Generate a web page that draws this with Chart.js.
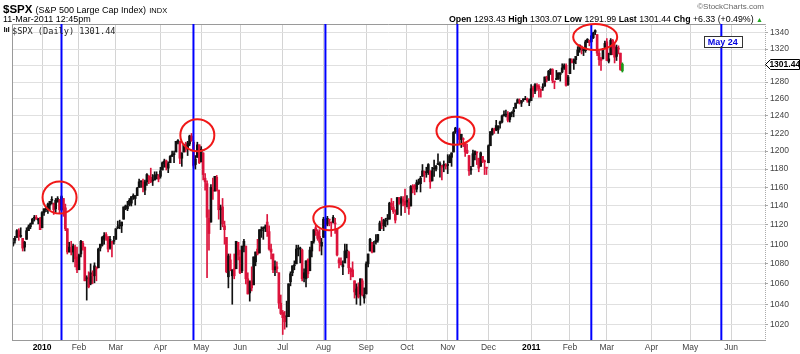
<!DOCTYPE html>
<html>
<head>
<meta charset="utf-8">
<script src="https://cdn.jsdelivr.net/npm/chart.js@4.4.1/dist/chart.umd.min.js"></script>
<style>
  body { margin: 0; background: #fff; }
  #wrap { position: relative; width: 800px; height: 354px; font-family: Arial, "Liberation Sans", sans-serif; }
  canvas { position: absolute; left: 0; top: 0; }
  .t { position: absolute; white-space: nowrap; line-height: 1; color: #000; }
</style>
</head>
<body>
<div id="wrap">
  <canvas id="chart" width="800" height="354"></canvas>
  <div class="t" style="left:3px;top:4px;font-size:11.5px;font-weight:bold">$SPX <span style="font-size:9px;font-weight:normal">(S&amp;P 500 Large Cap Index)</span> <span style="font-size:7.5px;font-weight:normal">INDX</span></div>
  <div class="t" style="left:3px;top:15px;font-size:9px">11-Mar-2011 12:45pm</div>
  <div class="t" style="right:36px;top:3px;font-size:8px;color:#666">©StockCharts.com</div>
  <div class="t" style="right:37px;top:15px;font-size:8.8px"><b>Open</b> 1293.43 <b>High</b> 1303.07 <b>Low</b> 1291.99 <b>Last</b> 1301.44 <b>Chg</b> +6.33 (+0.49%) <span style="color:#2a2;font-size:7px">▲</span></div>
  <div class="t" style="left:12px;top:26px;font:8.6px 'DejaVu Sans Mono',monospace;color:#222">$SPX (Daily) 1301.44</div>
</div>
<script>
// trading calendar (x categories)
const firstDay = '2009-12-10';
const lastDay = '2011-06-24';
const holidays = ['2009-12-25','2010-01-01','2010-01-18','2010-02-15','2010-04-02','2010-05-31','2010-07-05',
  '2010-09-06','2010-11-25','2010-12-24','2011-01-17','2011-02-21','2011-04-22','2011-05-30'];

const monthStarts = ['2010-01-04','2010-02-01','2010-03-01','2010-04-01','2010-05-03','2010-06-01','2010-07-01',
  '2010-08-02','2010-09-01','2010-10-01','2010-11-01','2010-12-01','2011-01-03','2011-02-01','2011-03-01',
  '2011-04-01','2011-05-02','2011-06-01'];
const monthLabels = ['2010','Feb','Mar','Apr','May','Jun','Jul','Aug','Sep','Oct','Nov','Dec','2011','Feb','Mar','Apr','May','Jun'];

const yTicks = [1020,1040,1060,1080,1100,1120,1140,1160,1180,1200,1220,1240,1260,1280,1300,1320,1340];

// daily candles, Dec 10 2009 .. Mar 11 2011
const opens = [
  1099,1104,1107,1114,1108,1106,1097,1105,1114,1118,1121,1127,1128,1125,1127,
  1117,1133,1136,1136,1141,1146,1143,1137,1145,1147,1136,1148,1138,1116,1092,1095,1092,1097,1087,
  1074,1090,1101,1097,1065,1066,1060,1069,1068,1075,1076,1096,1099,1105,1110,1107,1096,1101,1103,
  1105,1117,1119,1119,1126,1139,1137,1141,1143,1151,1148,1151,1160,1166,1166,1157,1166,1172,1171,1168,1168,1173,1172,
  1172,1179,1186,1189,1181,1187,1194,1196,1199,1210,1211,1192,1199,1207,1202,1208,1217,1210,1185,1193,1207,
  1188,1198,1170,1164,1127,1123,1156,1156,1171,1157,1136,1139,1119,1107,1067,1084,1068,1075,1075,1102,
  1087,1073,1098,1098,1065,1051,1063,1059,1082,1095,1091,1114,1116,1117,1123,1113,1095,1090,1074,1077,1071,1041,
  1032,1028,1029,1028,1062,1071,1078,1080,1095,1095,1094,1066,1065,1084,1073,1093,1103,1117,1113,1108,1098,
  1107,1125,1121,1125,1122,1123,1122,1116,1081,1082,1077,1081,1093,1092,1075,1074,1063,1049,1057,1050,1063,1046,
  1050,1080,1093,1102,1092,1102,1104,1114,1121,1119,1124,1127,1126,1143,1139,1131,1131,1149,1143,1147,1145,
  1144,1144,1140,1160,1162,1158,1165,1164,1172,1177,1177,1176,1178,1167,1180,1180,1185,1184,1184,1184,1183,
  1185,1187,1193,1199,1222,1224,1224,1213,1213,1209,1201,1195,1179,1183,1196,1198,1192,1183,1194,1189,1182,
  1187,1206,1219,1224,1229,1224,1231,1233,1242,1241,1241,1236,1243,1245,1249,1255,1258,1255,1259,1259,1260,1256,
  1258,1273,1269,1276,1275,1271,1273,1275,1286,1282,1294,1295,1280,1283,1284,1289,1292,1297,1300,1277,
  1290,1305,1303,1307,1312,1319,1323,1318,1318,1329,1331,1329,1334,1341,1338,1315,1308,1308,1322,
  1329,1305,1313,1331,1323,1311,1320,1315,1293.43
];
const highs = [
  1106,1108,1115,1116,1117,1106,1103,1117,1120,1122,1127,1130,1130,1127,1128,
  1134,1137,1139,1143,1145,1150,1143,1148,1150,1147,1151,1148,1142,1116,1102,1103,1100,1099,1097,
  1090,1104,1103,1097,1068,1072,1080,1073,1081,1077,1096,1100,1108,1112,1112,1108,1108,1103,1108,
  1116,1124,1125,1123,1139,1141,1145,1148,1150,1153,1151,1160,1169,1167,1169,1168,1175,1173,1181,1174,1177,1177,1174,
  1182,1188,1191,1190,1188,1195,1200,1200,1211,1213,1211,1198,1208,1210,1211,1218,1220,1212,1195,1210,1207,
  1205,1198,1175,1167,1136,1163,1170,1172,1173,1157,1141,1148,1124,1107,1090,1090,1074,1090,1103,1102,
  1094,1098,1105,1098,1071,1063,1077,1087,1092,1105,1115,1118,1118,1120,1131,1119,1100,1090,1083,1082,1071,1049,
  1034,1033,1043,1060,1072,1078,1083,1099,1099,1097,1095,1075,1083,1085,1097,1103,1115,1120,1115,1115,1106,
  1128,1126,1129,1126,1123,1130,1127,1116,1086,1086,1083,1100,1100,1093,1076,1082,1063,1060,1061,1065,1065,1056,
  1082,1090,1106,1102,1103,1110,1110,1124,1128,1126,1127,1131,1144,1148,1145,1136,1149,1149,1150,1150,1158,
  1151,1148,1162,1163,1163,1168,1169,1172,1185,1178,1182,1186,1178,1182,1190,1184,1197,1188,1184,1189,1186,
  1196,1196,1198,1222,1227,1224,1226,1219,1215,1210,1208,1195,1183,1201,1200,1199,1192,1199,1194,1190,1182,
  1207,1222,1226,1226,1235,1229,1234,1241,1246,1247,1245,1244,1245,1250,1255,1260,1260,1258,1260,1263,1261,1260,
  1277,1275,1278,1278,1277,1272,1278,1286,1287,1294,1296,1296,1281,1294,1291,1291,1302,1302,1302,1288,
  1308,1308,1308,1311,1323,1325,1324,1322,1331,1333,1331,1337,1341,1344,1338,1318,1310,1321,1330,
  1333,1315,1333,1332,1327,1325,1324,1315,1303.07
];
const lows = [
  1098,1101,1107,1104,1107,1093,1093,1105,1114,1116,1121,1124,1126,1121,1115,
  1117,1130,1134,1132,1136,1142,1131,1133,1144,1132,1135,1129,1114,1090,1092,1089,1082,1077,1071,
  1074,1087,1094,1063,1044,1056,1059,1060,1061,1063,1076,1093,1098,1100,1104,1092,1095,1087,1100,
  1105,1116,1116,1112,1126,1136,1135,1140,1140,1147,1141,1151,1160,1160,1155,1152,1162,1164,1165,1162,1168,1169,1166,
  1170,1179,1182,1179,1176,1187,1194,1187,1199,1208,1186,1183,1199,1199,1195,1206,1211,1182,1180,1193,1186,
  1188,1168,1157,1066,1094,1123,1147,1156,1156,1126,1115,1118,1100,1071,1056,1073,1040,1065,1075,1084,
  1070,1071,1092,1060,1050,1043,1053,1059,1078,1089,1091,1107,1105,1113,1108,1094,1085,1071,1068,1071,1036,1030,
  1011,1016,1018,1028,1058,1068,1074,1080,1088,1081,1063,1062,1057,1066,1073,1087,1101,1109,1104,1093,1089,
  1107,1116,1119,1119,1108,1122,1111,1088,1076,1079,1069,1081,1086,1070,1064,1067,1046,1040,1046,1039,1048,1041,
  1050,1077,1093,1091,1092,1100,1102,1114,1116,1114,1118,1120,1126,1136,1132,1122,1131,1142,1130,1140,1133,
  1139,1131,1140,1154,1152,1155,1163,1155,1172,1166,1171,1174,1159,1167,1172,1178,1185,1171,1168,1177,1180,
  1175,1187,1183,1199,1220,1218,1208,1204,1205,1194,1197,1173,1174,1183,1190,1185,1177,1183,1187,1174,1174,
  1187,1206,1218,1220,1223,1220,1226,1232,1240,1239,1233,1233,1239,1239,1249,1255,1254,1251,1257,1259,1256,1252,
  1258,1262,1266,1270,1262,1262,1270,1275,1280,1282,1289,1279,1272,1283,1283,1281,1291,1295,1275,1276,
  1290,1303,1295,1302,1312,1316,1314,1312,1316,1328,1324,1329,1333,1338,1312,1300,1294,1308,1321,
  1306,1303,1313,1313,1303,1306,1314,1294,1291.99
];
const closes = [
  1102,1106,1114,1108,1109,1096,1102,1114,1118,1121,1126,1128,1126,1126,1115,
  1133,1137,1137,1142,1145,1147,1136,1146,1148,1136,1150,1138,1116,1092,1097,1092,1098,1085,1074,
  1089,1103,1097,1063,1066,1057,1071,1068,1078,1076,1095,1100,1107,1109,1108,1095,1105,1103,1104,
  1116,1118,1119,1123,1139,1139,1140,1146,1150,1150,1151,1159,1166,1166,1160,1166,1174,1168,1166,1167,1173,1173,1169,
  1178,1187,1189,1182,1186,1194,1196,1197,1211,1212,1192,1198,1207,1206,1209,1217,1212,1184,1191,1207,1187,
  1202,1174,1166,1128,1111,1160,1156,1172,1157,1136,1137,1121,1115,1072,1088,1074,1074,1068,1103,1089,
  1071,1098,1103,1065,1050,1062,1056,1087,1092,1090,1115,1115,1116,1118,1113,1095,1092,1074,1077,1075,1041,1031,
  1027,1023,1028,1060,1070,1078,1079,1095,1095,1096,1065,1071,1083,1070,1094,1103,1115,1114,1106,1102,1102,
  1126,1120,1127,1126,1122,1128,1121,1089,1084,1079,1079,1093,1094,1076,1072,1067,1052,1055,1047,1065,1049,1049,
  1080,1090,1105,1092,1099,1104,1110,1122,1121,1125,1125,1126,1143,1140,1134,1125,1149,1142,1148,1145,1141,
  1146,1137,1161,1160,1158,1165,1165,1170,1178,1174,1176,1185,1166,1178,1180,1183,1186,1186,1182,1184,1183,
  1184,1194,1198,1221,1226,1223,1213,1219,1214,1199,1198,1178,1179,1197,1200,1198,1181,1198,1189,1188,1181,
  1206,1222,1225,1223,1224,1228,1233,1240,1240,1242,1235,1243,1244,1247,1255,1259,1257,1258,1259,1260,1258,1258,
  1272,1270,1277,1274,1272,1270,1274,1286,1284,1293,1295,1282,1280,1283,1291,1291,1297,1300,1276,1286,
  1308,1304,1307,1311,1319,1325,1321,1322,1329,1332,1328,1336,1340,1343,1315,1307,1306,1320,1327,
  1306,1308,1331,1321,1310,1322,1320,1295,1301.44
];

// annotations
const cycleDates = ['2010-01-19','2010-04-27','2010-08-03','2010-11-08','2011-02-16','2011-05-24'];
const cycleLabel = 'May 24';
const circleDates = ['2010-01-15','2010-04-29','2010-08-05','2010-11-05','2011-02-18'];
const circleValues = [1149, 1218, 1127, 1223, 1335];

function tradingDays(start, end, skip) {
  const out = [];
  const d = new Date(start + 'T00:00:00Z');
  const e = new Date(end + 'T00:00:00Z');
  while (d <= e) {
    const s = d.toISOString().slice(0, 10);
    const wd = d.getUTCDay();
    if (wd !== 0 && wd !== 6 && !skip.includes(s)) out.push(s);
    d.setUTCDate(d.getUTCDate() + 1);
  }
  return out;
}
const days = tradingDays(firstDay, lastDay, holidays);
const monthIdx = monthStarts.map(d => days.indexOf(d));

const RED = '#dc143c', BLACK = '#111', GREEN = '#1a9a1a';
const barColors = closes.map((c, i) => {
  if (i === closes.length - 1) return GREEN;
  const prev = i ? closes[i - 1] : opens[0];
  return c >= prev ? BLACK : RED;
});

const circleSize = [[17, 16], [17, 16], [16, 12], [19, 14], [22, 13]];

const overlay = {
  id: 'overlay',
  beforeDraw(chart) {
    const ctx = chart.ctx;
    ctx.save();
    ctx.fillStyle = '#fff';
    ctx.fillRect(0, 0, chart.width, chart.height);
    ctx.restore();
  },
  afterDraw(chart) {
    const { ctx, chartArea: a, scales: { x, y } } = chart;
    ctx.save();
    // frame
    ctx.strokeStyle = '#9a9a9a';
    ctx.lineWidth = 1;
    ctx.beginPath();
    ctx.moveTo(a.left + 0.5, a.bottom);
    ctx.lineTo(a.left + 0.5, a.top + 0.5);
    ctx.lineTo(a.right, a.top + 0.5);
    ctx.stroke();
    ctx.setLineDash([1, 1]);
    ctx.strokeStyle = '#aaa';
    ctx.beginPath();
    ctx.moveTo(a.right + 0.5, a.top);
    ctx.lineTo(a.right + 0.5, a.bottom);
    ctx.stroke();
    ctx.setLineDash([]);

    // legend icon
    ctx.fillStyle = '#222';
    [[4, 27, 5], [6, 28, 4], [8, 27, 5]].forEach(([bx, by, bh]) => ctx.fillRect(bx, by, 1.2, bh));

    // cycle lines
    ctx.strokeStyle = '#0000ff';
    ctx.lineWidth = 2;
    const cx = cycleDates.map(d => x.getPixelForValue(days.indexOf(d)));
    cx.forEach(px => {
      ctx.beginPath();
      ctx.moveTo(px, a.top);
      ctx.lineTo(px, a.bottom);
      ctx.stroke();
    });

    // circles at the peaks
    ctx.strokeStyle = '#f01818';
    ctx.lineWidth = 2;
    circleDates.forEach((d, i) => {
      const px = x.getPixelForValue(days.indexOf(d));
      const py = y.getPixelForValue(circleValues[i]);
      ctx.beginPath();
      ctx.ellipse(px, py, circleSize[i][0], circleSize[i][1], 0, 0, Math.PI * 2);
      ctx.stroke();
    });

    // label on the last cycle line
    const lx = cx[cx.length - 1] + 1.5;
    ctx.font = 'bold 9px Arial, "Liberation Sans"';
    const lw = ctx.measureText(cycleLabel).width + 8;
    ctx.fillStyle = '#fff';
    ctx.fillRect(lx - lw / 2, 36, lw, 12);
    ctx.strokeStyle = '#333';
    ctx.lineWidth = 1;
    ctx.strokeRect(Math.round(lx - lw / 2) + 0.5, 36.5, Math.round(lw), 11);
    ctx.fillStyle = '#0000e0';
    ctx.textAlign = 'center';
    ctx.textBaseline = 'middle';
    ctx.fillText(cycleLabel, lx, 42.5);

    // last price tag
    const last = closes[closes.length - 1];
    const ty = Math.round(y.getPixelForValue(last)) + 0.5;
    const tx = a.right + 0.5;
    ctx.beginPath();
    ctx.moveTo(tx, ty);
    ctx.lineTo(tx + 5, ty - 5);
    ctx.lineTo(799.5, ty - 5);
    ctx.lineTo(799.5, ty + 5);
    ctx.lineTo(tx + 5, ty + 5);
    ctx.closePath();
    ctx.fillStyle = '#fff';
    ctx.fill();
    ctx.strokeStyle = '#000';
    ctx.stroke();
    ctx.fillStyle = '#000';
    ctx.font = 'bold 8.5px Arial, "Liberation Sans"';
    ctx.fillText(last.toFixed(2), (tx + 5 + 799) / 2, ty + 0.5);
    ctx.restore();
  }
};

new Chart(document.getElementById('chart'), {
  type: 'bar',
  data: {
    labels: days,
    datasets: [
      {
        data: lows.map((l, i) => [l, highs[i]]),
        backgroundColor: barColors,
        barThickness: 1,
        grouped: false
      },
      {
        data: opens.map((o, i) => [o, closes[i]]),
        backgroundColor: barColors,
        barThickness: 2,
        minBarLength: 1,
        grouped: false
      }
    ]
  },
  options: {
    responsive: false,
    animation: false,
    devicePixelRatio: 1,
    layout: { padding: { left: 12, top: 24, right: 0, bottom: 0 } },
    plugins: { legend: { display: false }, tooltip: { enabled: false } },
    scales: {
      x: {
        type: 'category',
        offset: true,
        afterBuildTicks: s => { s.ticks = s.ticks.filter(t => monthIdx.includes(t.value)); },
        afterFit: s => { s.height = 14; },
        grid: { offset: false, color: '#d4d4d4', drawTicks: false },
        border: { color: '#999' },
        ticks: {
          autoSkip: false,
          maxRotation: 0,
          padding: 3,
          callback: v => monthLabels[monthIdx.indexOf(v)],
          color: c => /^\d{4}$/.test(c.tick && c.tick.label) ? '#000' : '#444',
          font: c => ({
            family: 'Arial, "Liberation Sans"',
            size: 8.5,
            weight: /^\d{4}$/.test(c.tick && c.tick.label) ? 'bold' : 'normal'
          })
        }
      },
      y: {
        type: 'logarithmic',
        position: 'right',
        min: 1005.8,
        max: 1351.3,
        afterBuildTicks: s => { s.ticks = yTicks.map(v => ({ value: v })); },
        afterFit: s => { s.width = 35; },
        grid: { color: '#e0e0e0', tickLength: 3, tickColor: '#aaa' },
        border: { display: false },
        ticks: {
          padding: 2,
          color: '#444',
          font: { family: 'Arial, "Liberation Sans"', size: 8.5 },
          callback: v => (v === 1300 ? '' : String(v))
        }
      }
    }
  },
  plugins: [overlay]
});
</script>
</body>
</html>
